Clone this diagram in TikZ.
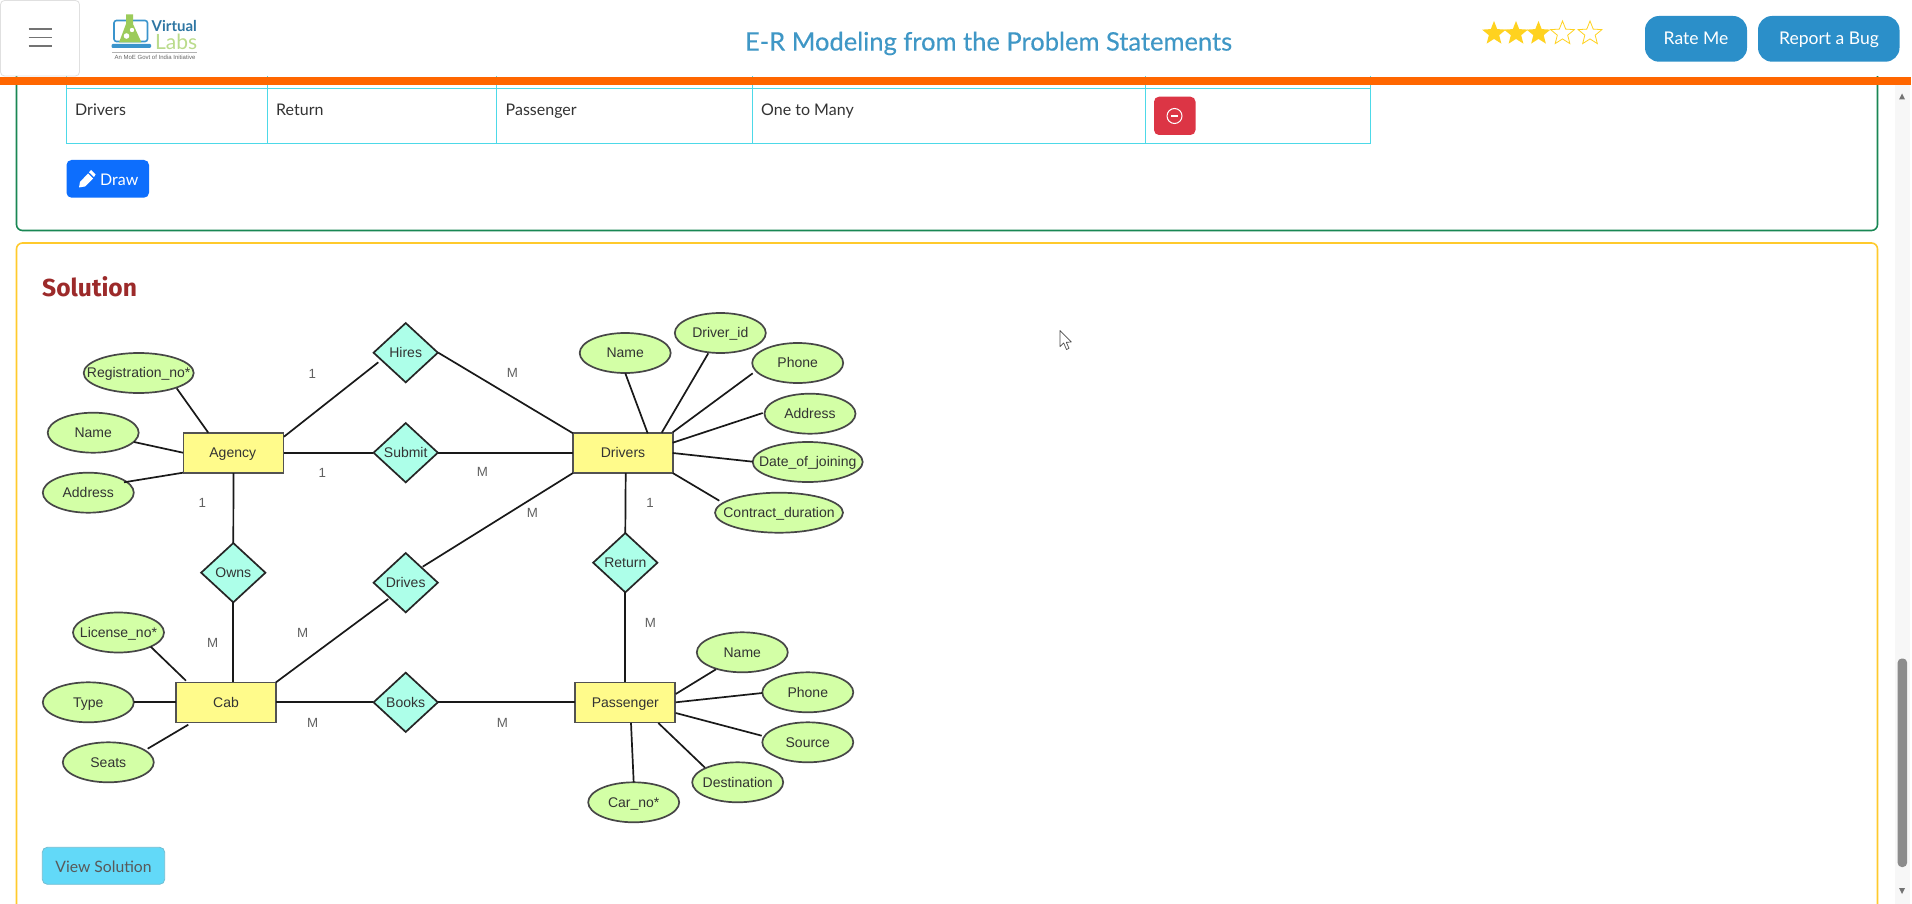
\documentclass[tikz,border=0pt]{standalone}
\usepackage{fontspec}
\setmainfont{Liberation Sans}
\newfontfamily\uifont{Lato}
\newfontfamily\headfont{Lato}
\newfontfamily\titlefont[FakeBold=0.35]{Lato}
\newfontfamily\solfont{Fira Sans}
\usetikzlibrary{shapes.geometric,calc}
\definecolor{entfill}{HTML}{FFFB8B}
\definecolor{relfill}{HTML}{ADFFE9}
\definecolor{attfill}{HTML}{D3FFA6}
\definecolor{ink}{HTML}{333333}
\definecolor{cardgreen}{HTML}{198754}
\definecolor{cardyellow}{HTML}{FFC107}
\definecolor{barorange}{HTML}{FF6600}
\definecolor{tablecyan}{HTML}{4DD9E8}
\definecolor{btnblue}{HTML}{0D6EFD}
\definecolor{btnred}{HTML}{DC3545}
\definecolor{btnsky}{HTML}{2B8FC9}
\definecolor{titleblue}{HTML}{3F97C6}
\definecolor{viewfill}{HTML}{62D9F8}
\definecolor{solred}{HTML}{9C2A2A}
\definecolor{staryellow}{HTML}{FFD21F}
\definecolor{logoblue}{HTML}{3A94CC}
\definecolor{logogreen}{HTML}{9CCB5A}
\newcommand\attlabel[1]{\makebox[0pt]{#1}}
\tikzset{
  x=1pt,y=-1pt,
  diagramtext/.style={font=\fontsize{14}{15}\selectfont,text=ink,text height=11.4pt,text depth=2pt},
  entity/.style={diagramtext,draw=ink!85,line width=1.7pt,fill=entfill,rectangle,inner sep=0pt,minimum width=100pt,minimum height=40pt},
  relation/.style={diagramtext,draw=black!85,line width=1.7pt,fill=relfill,diamond,aspect=1.1,inner sep=0pt,minimum width=65pt,minimum height=60pt},
  attribute/.style={diagramtext,draw=ink!90,line width=1.7pt,fill=attfill,ellipse,inner sep=0pt,minimum width=91pt,minimum height=40pt},
  link/.style={draw=black!90,line width=1.7pt},
  card/.style={rectangle,font=\fontsize{13.3}{14}\selectfont,text=black!62,inner sep=0pt},
  cell/.style={anchor=west,inner sep=0pt,font=\uifont\fontsize{16}{18}\selectfont,text=ink,text height=11pt,text depth=3pt},
  hdrbtn/.style={fill=btnsky,rounded corners=14pt,draw=none},
  hdrtext/.style={text=white,font=\headfont\fontsize{17.5}{19}\selectfont,inner sep=0pt,text height=12pt,text depth=3.5pt},
  starshape/.style={star,star points=5,star point ratio=2.3,minimum size=25pt,inner sep=0pt},
  ham/.style={draw=black!55,line width=1.6pt},
  tablerule/.style={draw=tablecyan,line width=1pt},
}
\begin{document}
\begin{tikzpicture}
\useasboundingbox (0,0) rectangle (1912,904);
\fill[white] (0,0) rectangle (1912,904);
% cards
\draw[cardgreen,line width=1.6pt,rounded corners=6pt] (16.5,60) -- (16.5,230.5) -- (1877.5,230.5) -- (1877.5,60);
\draw[cardyellow!85!white,line width=1.6pt,rounded corners=6pt] (16.5,920) -- (16.5,243) -- (1877.5,243) -- (1877.5,920);
% table
\draw[tablerule] (66.5,70) -- (66.5,143.3) -- (1370,143.3) -- (1370,70);
\draw[tablerule] (66.5,88.3) -- (1370,88.3);
\foreach \cx in {267.3,496.7,752.7,1145.3} \draw[tablerule] (\cx,70) -- (\cx,143.3);
\node[cell] (c1) at (75,111.5) {Drivers};
\node[cell] (c2) at (276,111.5) {Return};
\node[cell] (c3) at (505.5,111.5) {Passenger};
\node[cell] (c4) at (761,111.5) {One to Many};
\fill[btnred,rounded corners=5pt] (1154,96.7) rectangle (1195.5,135);
\draw[white,line width=1pt] (1174.5,116) circle (7.5pt);
\draw[white,line width=1.2pt] (1171,116) -- (1178,116);
% Draw button
\fill[btnblue,rounded corners=5pt] (66.5,160) rectangle (149,197.7);
\fill[white] (79,187.5) -- (80,182) -- (88,173.5) -- (93,178.5) -- (85,186.5) -- cycle;
\fill[white] (89,172.3) -- (91,170) -- (95.5,174.5) -- (94,177) -- cycle;
\node[cell,text=white] (drawtxt) at (100,181.5) {Draw};
% header
\fill[white] (0,0) rectangle (1912,76.5);
\fill[barorange] (0,76.7) rectangle (1910.5,85);
\draw[black!12,line width=.8pt,rounded corners=4pt] (0.5,0.5) rectangle (79.5,76);
\foreach \hy in {29.3,37.7,46} \draw[ham] (28.6,\hy) -- (51.8,\hy);
% logo
\draw[logoblue,line width=1.6pt,rounded corners=2.5pt] (114,20.5) rectangle (147.5,41.5);
\fill[logoblue,rounded corners=1pt] (111.7,44) rectangle (151,48);
\fill[logogreen] (126,14.5) -- (133,14.5) -- (133,24) -- (141.5,42.5) -- (119,42.5) -- (126,24) -- cycle;
\fill[white] (126.5,36) circle (2.8pt);
\fill[white] (132,30) circle (2.2pt);
\node[inner sep=0pt,anchor=west,text=logoblue!80!black,font=\headfont\bfseries\fontsize{15}{16}\selectfont] (logo1) at (151.5,26) {Virtual};
\node[inner sep=0pt,anchor=west,text=logogreen!70,font=\uifont\fontsize{21}{22}\selectfont] (logo2) at (155,41.5) {Labs};
\draw[black!30,line width=.7pt] (112,52.7) -- (196.7,52.7);
\node[inner sep=0pt,text=black!60,font=\fontsize{6}{7}\selectfont] (logo3) at (155,57.5) {An MoE Govt of India Initiative};
% title
\node[inner sep=0pt,text=titleblue,font=\titlefont\fontsize{25.5}{27}\selectfont] (title) at (988.5,43.5) {E-R Modeling from the Problem Statements};
% stars
\node[starshape,fill=staryellow] (s1) at (1494,33.5) {};
\node[starshape,fill=staryellow] (s2) at (1516,33.5) {};
\node[starshape,fill=staryellow] (s3) at (1538.5,33.5) {};
\node[starshape,draw=staryellow,line width=.8pt] (s4) at (1562.5,33.5) {};
\node[starshape,draw=staryellow,line width=.8pt] (s5) at (1590,33.5) {};
% header buttons
\fill[hdrbtn] (1645,16) rectangle (1747,61.7);
\node[hdrtext] (rate) at (1696,40) {Rate Me};
\fill[hdrbtn] (1758,16) rectangle (1899.5,61.7);
\node[hdrtext] (bug) at (1829,40) {Report a Bug};
% scrollbar
\fill[black!3] (1895,85) rectangle (1910,904);
\fill[black!55] (1899,99.5) -- (1905,99.5) -- (1902,93.5) -- cycle;
\fill[black!55] (1899,888) -- (1905,888) -- (1902,894) -- cycle;
\fill[black!45,rounded corners=4pt] (1897.7,658.5) rectangle (1907,867);
% Solution
\node[anchor=west,inner sep=0pt,text=solred,font=\solfont\bfseries\fontsize{24.6}{26}\selectfont] (sol) at (42,286.5) {Solution};
% view solution
\draw[viewfill!80!black!80,fill=viewfill,rounded corners=5pt,line width=.8pt] (42.3,847.3) rectangle (164.7,884.3);
\node[inner sep=0pt,text=black!65,font=\uifont\fontsize{15.7}{18}\selectfont] (viewtxt) at (103.5,867) {View Solution};
% cursor
\draw[black!70,fill=white,line width=.7pt,line join=round] (1060,330.5) -- (1060,346.5) -- (1063.7,343) -- (1066.5,349.5) -- (1069,348.3) -- (1066.3,342.3) -- (1071.3,342) -- cycle;
% ER nodes
\node[entity] (agency) at (233.5,453) {\hspace{-1.5pt}Agency};
\node[entity] (drivers) at (623,453) {Drivers};
\node[entity] (cab) at (226,702.5) {Cab};
\node[entity] (passenger) at (625.3,702.5) {Passenger};
\node[relation] (hires) at (405.7,352.7) {Hires};
\node[relation] (submit) at (405.7,452.7) {Submit};
\node[relation] (owns) at (233.3,572.7) {Owns};
\node[relation] (drives) at (405.7,582.7) {Drives};
\node[relation] (books) at (405.7,702.3) {Books};
\node[relation] (return) at (625.3,562.7) {Return};
\node[attribute,minimum width=110pt] (regno) at (138.7,373) {\attlabel{Registration\_no*}};
\node[attribute] (aname) at (93.2,432.7) {\attlabel{Name}};
\node[attribute] (aaddr) at (88.3,492.7) {\attlabel{Address}};
\node[attribute] (dname) at (625.2,353) {\attlabel{Name}};
\node[attribute] (did) at (720.3,333) {\attlabel{Driver\_id}};
\node[attribute] (dphone) at (797.7,363) {\attlabel{Phone}};
\node[attribute] (daddr) at (810,413.7) {\attlabel{Address}};
\node[attribute,minimum width=110pt] (ddate) at (807.7,462) {\attlabel{Date\_of\_joining}};
\node[attribute,minimum width=128pt] (dcontract) at (779,512.7) {\attlabel{Contract\_duration}};
\node[attribute] (lic) at (118.5,632.5) {\attlabel{License\_no*}};
\node[attribute] (ctype) at (88.3,702.3) {\attlabel{Type}};
\node[attribute] (seats) at (108.3,762.3) {\attlabel{Seats}};
\node[attribute] (pname) at (742.3,652.3) {\attlabel{Name}};
\node[attribute] (pphone) at (807.8,692.3) {\attlabel{Phone}};
\node[attribute] (psource) at (807.8,742.3) {\attlabel{Source}};
\node[attribute] (pdest) at (737.7,782.3) {\attlabel{Destination}};
\node[attribute] (pcar) at (633.7,802.3) {\attlabel{Car\_no*}};
% connectors: offsets in pixels from node centres
\foreach \na/\ax/\ay/\nb/\bx/\by in {
 regno/38/15.3/agency/-25.2/-20.3,
 aname/40.8/9.3/agency/-50.5/-0.3,
 aaddr/35.7/-10.4/agency/-50.5/19.7,
 agency/50.5/-16.3/hires/-27.4/9.6,
 agency/50.5/-0.3/submit/-33/0,
 agency/0/20/owns/0/-29.7,
 hires/32.6/0/drivers/-50/-19.7,
 submit/32.6/0/drivers/-50/-0.3,
 drives/17/-16/drivers/-50/20,
 dname/0.1/20.3/drivers/24.7/-19.7,
 did/-12/20.3/drivers/38.7/-20.3,
 dphone/-45/10.3/drivers/49.7/-20.7,
 daddr/-47.3/-0.7/drivers/49.7/-10.3,
 ddate/-55/-0.3/drivers/49.7/0,
 dcontract/-59.7/-12/drivers/49.7/20,
 drivers/2.7/20/return/0/-29.4,
 return/0/29.6/passenger/0/-20.2,
 owns/0/29.3/cab/7.3/-20.2,
 cab/50/-20.2/drives/-17.4/16.3,
 cab/50/-0.2/books/-33/0,
 books/32.6/0/passenger/-50.3/-0.2,
 lic/32.2/14.2/cab/-40/-21.8,
 ctype/45.4/0/cab/-50.3/-0.2,
 seats/39.4/-13.6/cab/-37.7/22.2,
 pname/-26.3/17/passenger/50.4/-8.5,
 pphone/-45.5/0.7/passenger/50.4/-0.2,
 psource/-46.1/-6.6/passenger/50.4/10.5,
 pdest/-32.7/-14.6/passenger/33/20.5,
 pcar/0/-20/passenger/5.7/20.5}
 { \draw[link] ($(\na)+(\ax,\ay)$) -- ($(\nb)+(\bx,\by)$); }
% cardinalities
\foreach \nn/\lx/\ly/\lt in {
 l1/312.3/373.5/1, l2/512.3/373/M, l3/322.3/473/1, l4/482.3/472/M,
 l5/202.3/503/1, l6/532.3/512.6/M, l7/650/502.6/1, l8/212.7/642.6/M,
 l9/302.7/632.6/M, l10/312.7/722.6/M, l11/502.3/722.6/M, l12/650.3/622.6/M}
 { \node[card] (\nn) at (\lx,\ly) {\lt}; }
\end{tikzpicture}
\end{document}
